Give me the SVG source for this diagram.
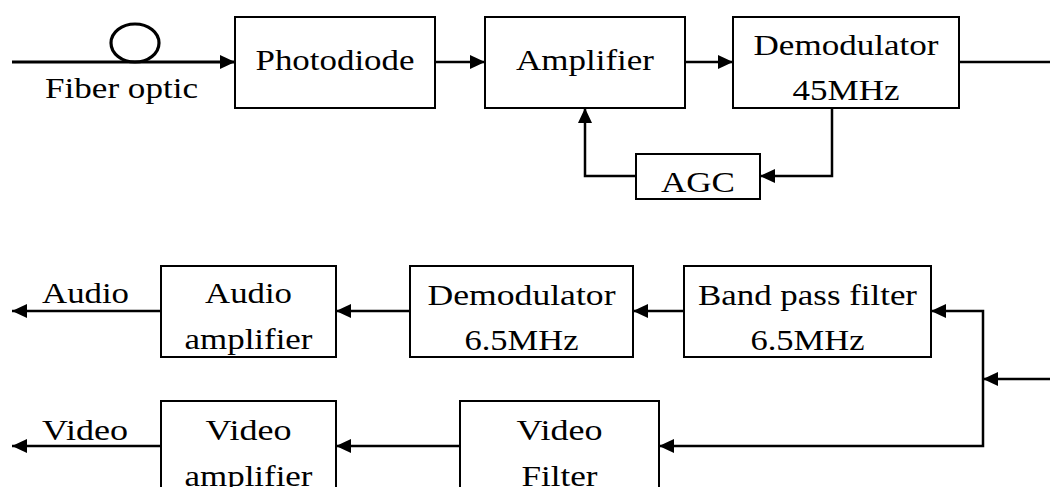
<svg xmlns="http://www.w3.org/2000/svg" width="1050" height="487" viewBox="0 0 1050 487">
<defs>
<style>
.box{fill:#fff;stroke:#000;stroke-width:2}
.ln{fill:none;stroke:#000;stroke-width:2.5}
.fib{fill:none;stroke:#000;stroke-width:3.2}
text{font-family:"Liberation Serif","Times New Roman",serif;font-size:30px;fill:#000}
.c{text-anchor:middle}
</style>
<marker id="ah" markerUnits="userSpaceOnUse" markerWidth="16" markerHeight="14" refX="15" refY="7" orient="auto">
<path d="M0,0 L15,7 L0,14 z" fill="#000"/>
</marker>
</defs>
<rect width="1050" height="487" fill="#fff"/>
<g id="connectors">
<ellipse class="fib" cx="135" cy="43" rx="24" ry="19"/>
<line class="fib" x1="12" y1="62" x2="235" y2="62" marker-end="url(#ah)"/>
<line class="ln" x1="435" y1="62" x2="485" y2="62" marker-end="url(#ah)"/>
<line class="ln" x1="685" y1="62" x2="733" y2="62" marker-end="url(#ah)"/>
<line class="ln" x1="959" y1="62" x2="1050" y2="62"/>
<polyline class="ln" points="832,108 832,176 760,176" marker-end="url(#ah)"/>
<polyline class="ln" points="636,176 585,176 585,108" marker-end="url(#ah)"/>
<polyline class="ln" points="983,379 983,311 931,311" marker-end="url(#ah)"/>
<polyline class="ln" points="983,379 983,446 659,446" marker-end="url(#ah)"/>
<line class="ln" x1="1050" y1="379" x2="983" y2="379" marker-end="url(#ah)"/>
<line class="ln" x1="684" y1="311" x2="633" y2="311" marker-end="url(#ah)"/>
<line class="ln" x1="410" y1="311" x2="336" y2="311" marker-end="url(#ah)"/>
<line class="ln" x1="161" y1="311" x2="12" y2="311" marker-end="url(#ah)"/>
<line class="ln" x1="460" y1="446" x2="336" y2="446" marker-end="url(#ah)"/>
<line class="ln" x1="161" y1="446" x2="12" y2="446" marker-end="url(#ah)"/>
</g>
<g id="fiber-label"><text x="45" y="98" textLength="153" lengthAdjust="spacingAndGlyphs">Fiber optic</text></g>
<g id="photodiode"><rect class="box" x="235" y="17" width="200" height="91"/><text class="c" x="335" y="70" textLength="159" lengthAdjust="spacingAndGlyphs">Photodiode</text></g>
<g id="amplifier"><rect class="box" x="485" y="17" width="200" height="91"/><text class="c" x="585" y="70" textLength="138" lengthAdjust="spacingAndGlyphs">Amplifier</text></g>
<g id="demod45"><rect class="box" x="733" y="17" width="226" height="91"/><text class="c" x="846" y="55" textLength="185" lengthAdjust="spacingAndGlyphs">Demodulator</text><text class="c" x="846" y="100" textLength="107" lengthAdjust="spacingAndGlyphs">45MHz</text></g>
<g id="agc"><rect class="box" x="636" y="154" width="124" height="45"/><text class="c" x="698" y="192" textLength="74" lengthAdjust="spacingAndGlyphs">AGC</text></g>
<g id="audio-label"><text x="42" y="303" textLength="87" lengthAdjust="spacingAndGlyphs">Audio</text></g>
<g id="audio-amp"><rect class="box" x="161" y="266" width="175" height="91"/><text class="c" x="248.5" y="303" textLength="87" lengthAdjust="spacingAndGlyphs">Audio</text><text class="c" x="248.5" y="349" textLength="128" lengthAdjust="spacingAndGlyphs">amplifier</text></g>
<g id="demod65"><rect class="box" x="410" y="266" width="223" height="91"/><text class="c" x="521.5" y="305" textLength="188" lengthAdjust="spacingAndGlyphs">Demodulator</text><text class="c" x="521.5" y="350" textLength="114" lengthAdjust="spacingAndGlyphs">6.5MHz</text></g>
<g id="bpf"><rect class="box" x="684" y="266" width="247" height="91"/><text class="c" x="807.5" y="305" textLength="219" lengthAdjust="spacingAndGlyphs">Band pass filter</text><text class="c" x="807.5" y="350" textLength="114" lengthAdjust="spacingAndGlyphs">6.5MHz</text></g>
<g id="video-label"><text x="42" y="440" textLength="86" lengthAdjust="spacingAndGlyphs">Video</text></g>
<g id="video-amp"><rect class="box" x="161" y="401" width="175" height="100"/><text class="c" x="248.5" y="440" textLength="86" lengthAdjust="spacingAndGlyphs">Video</text><text class="c" x="248.5" y="486" textLength="128" lengthAdjust="spacingAndGlyphs">amplifier</text></g>
<g id="video-filter"><rect class="box" x="460" y="401" width="199" height="100"/><text class="c" x="559.5" y="440" textLength="86" lengthAdjust="spacingAndGlyphs">Video</text><text class="c" x="559.5" y="486" textLength="76" lengthAdjust="spacingAndGlyphs">Filter</text></g>
</svg>
